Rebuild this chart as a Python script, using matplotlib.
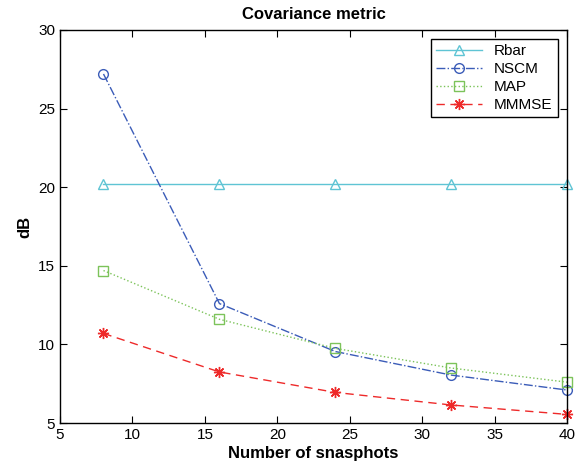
import matplotlib
matplotlib.use("Agg")
import matplotlib.pyplot as plt

plt.rcParams['font.family'] = ['Liberation Sans', 'DejaVu Sans']

snapshots = [8, 16, 24, 32, 40]
rbar = [20.2, 20.2, 20.2, 20.2, 20.2]
nscm = [27.2, 12.6, 9.55, 8.05, 7.1]
map_est = [14.7, 11.6, 9.75, 8.5, 7.6]
mmmse = [10.7, 8.25, 6.95, 6.15, 5.55]

fig = plt.figure(figsize=(5.85, 4.68), dpi=100)
ax = fig.add_axes([0.1026, 0.096, 0.867, 0.840])

# asterisk marker like matlab's '*' (+ and x together)
ast = (8, 2, 0)

ax.plot(snapshots, rbar, '-', color='#5fc4d4', marker='^', mfc='none', ms=7, lw=1,
        label='Rbar', clip_on=False)
ax.plot(snapshots, nscm, '-.', color='#3b5cb8', marker='o', mfc='none', ms=7, lw=1,
        label='NSCM', clip_on=False)
ax.plot(snapshots, map_est, ':', color='#7cc35a', marker='s', mfc='none', ms=7, lw=1,
        label='MAP', clip_on=False)
ax.plot(snapshots, mmmse, '--', color='#ee2a2a', marker=ast, ms=8, mew=1, lw=1,
        label='MMMSE', dashes=(6, 4), clip_on=False)

ax.set_xlim(5, 40)
ax.set_ylim(5, 30)
ax.set_xticks(range(5, 41, 5))
ax.set_yticks(range(5, 31, 5))
ax.tick_params(direction='in', top=True, right=True, labelsize=11, length=5)
for s in ax.spines.values():
    s.set_linewidth(1)

ax.set_title('Covariance metric', fontsize=12, fontweight='bold', pad=8)
ax.set_xlabel('Number of snasphots', fontsize=12, fontweight='bold', labelpad=3)
ax.set_ylabel('dB', fontsize=12, fontweight='bold')

leg = ax.legend(loc='upper right', fontsize=11, fancybox=False, framealpha=1,
                edgecolor='black', handlelength=3, borderaxespad=0.6,
                labelspacing=0.25, borderpad=0.35)
leg.get_frame().set_linewidth(1)

plt.savefig("out.png", dpi=100)
